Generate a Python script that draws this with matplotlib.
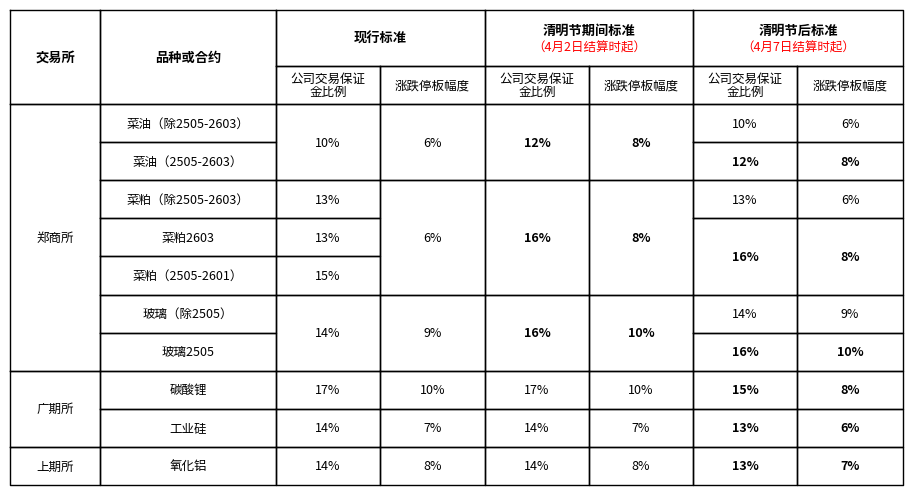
import matplotlib
matplotlib.use("Agg")
import matplotlib.pyplot as plt
from matplotlib import font_manager

# 中文字体
cjk = [f.name for f in font_manager.fontManager.ttflist if "CJK" in f.name]
for path in font_manager.findSystemFonts():
    if "CJK" in path or "cjk" in path.lower():
        try:
            font_manager.fontManager.addfont(path)
        except Exception:
            pass
cjk = [f.name for f in font_manager.fontManager.ttflist if "CJK" in f.name]
pref = [n for n in ["Noto Sans CJK SC", "Noto Sans CJK JP", "Noto Sans CJK TC", "Noto Sans CJK KR"] if n in cjk]
plt.rcParams["font.family"] = (pref or cjk or ["DejaVu Sans"])[:1] + ["DejaVu Sans"]

# 数据
exchanges = ["郑商所", "广期所", "上期所"]
exchange_spans = [7, 2, 1]
products = ["菜油（除2505-2603）", "菜油（2505-2603）", "菜粕（除2505-2603）", "菜粕2603",
            "菜粕（2505-2601）", "玻璃（除2505）", "玻璃2505", "碳酸锂", "工业硅", "氧化铝"]

cur_margin = ["10%", "13%", "13%", "15%", "14%", "17%", "14%", "14%"]
cur_margin_span = [2, 1, 1, 1, 2, 1, 1, 1]
cur_limit = ["6%", "6%", "9%", "10%", "7%", "8%"]
cur_limit_span = [2, 3, 2, 1, 1, 1]
hol_margin = ["12%", "16%", "16%", "17%", "14%", "14%"]
hol_margin_span = [2, 3, 2, 1, 1, 1]
hol_margin_bold = [1, 1, 1, 0, 0, 0]
hol_limit = ["8%", "8%", "10%", "10%", "7%", "8%"]
hol_limit_span = [2, 3, 2, 1, 1, 1]
hol_limit_bold = [1, 1, 1, 0, 0, 0]
aft_margin = ["10%", "12%", "13%", "16%", "14%", "16%", "15%", "13%", "13%"]
aft_margin_span = [1, 1, 1, 2, 1, 1, 1, 1, 1]
aft_margin_bold = [0, 1, 0, 1, 0, 1, 1, 1, 1]
aft_limit = ["6%", "8%", "6%", "8%", "9%", "10%", "8%", "6%", "7%"]
aft_limit_span = [1, 1, 1, 2, 1, 1, 1, 1, 1]
aft_limit_bold = [0, 1, 0, 1, 0, 1, 1, 1, 1]

xs = [10, 100, 276, 380, 485, 589, 693, 797, 903]
y_top, y_mid, y_head = 11, 67, 105
y_bot = 486
row_h = (y_bot - y_head) / len(products)
ry = [y_head + row_h * i for i in range(len(products) + 1)]

fig = plt.figure(figsize=(9.15, 5.02), dpi=100)
ax = fig.add_axes([0, 0, 1, 1])
ax.set_xlim(0, 915)
ax.set_ylim(502, 0)
ax.axis("off")

FS = 9


def cell(x0, x1, y0, y1, text="", bold=False, color="black", size=FS):
    ax.plot([x0, x1, x1, x0, x0], [y0, y0, y1, y1, y0], color="black", lw=1)
    if text:
        ax.text((x0 + x1) / 2, (y0 + y1) / 2, text, ha="center", va="center",
                fontsize=size, color=color, fontweight="bold" if bold else "normal",
                linespacing=1.0)


# 表头
cell(xs[0], xs[1], y_top, y_head, "交易所", bold=True, size=9.5)
cell(xs[1], xs[2], y_top, y_head, "品种或合约", bold=True, size=9.5)
cell(xs[2], xs[4], y_top, y_mid, "现行标准", bold=True, size=9.5)
cell(xs[4], xs[6], y_top, y_mid)
cell(xs[6], xs[8], y_top, y_mid)
for gx, title, note in [(4, "清明节期间标准", "（4月2日结算时起）"),
                        (6, "清明节后标准", "（4月7日结算时起）")]:
    cx = (xs[gx] + xs[gx + 2]) / 2
    ax.text(cx, 31, title, ha="center", va="center", fontsize=9.5, fontweight="bold")
    ax.text(cx, 48, note, ha="center", va="center", fontsize=FS, color="red")
for k in range(3):
    cell(xs[2 + 2 * k], xs[3 + 2 * k], y_mid, y_head, "公司交易保证\n金比例")
    cell(xs[3 + 2 * k], xs[4 + 2 * k], y_mid, y_head, "涨跌停板幅度")

# 交易所
r = 0
for name, sp in zip(exchanges, exchange_spans):
    cell(xs[0], xs[1], ry[r], ry[r + sp], name)
    r += sp
for i, p in enumerate(products):
    cell(xs[1], xs[2], ry[i], ry[i + 1], p)


def column(ci, vals, spans, bolds=None):
    r = 0
    for j, (v, sp) in enumerate(zip(vals, spans)):
        b = bool(bolds[j]) if bolds else False
        cell(xs[ci], xs[ci + 1], ry[r], ry[r + sp], v, bold=b)
        r += sp


column(2, cur_margin, cur_margin_span)
column(3, cur_limit, cur_limit_span)
column(4, hol_margin, hol_margin_span, hol_margin_bold)
column(5, hol_limit, hol_limit_span, hol_limit_bold)
column(6, aft_margin, aft_margin_span, aft_margin_bold)
column(7, aft_limit, aft_limit_span, aft_limit_bold)

fig.savefig("out.png", dpi=100, facecolor="white")
